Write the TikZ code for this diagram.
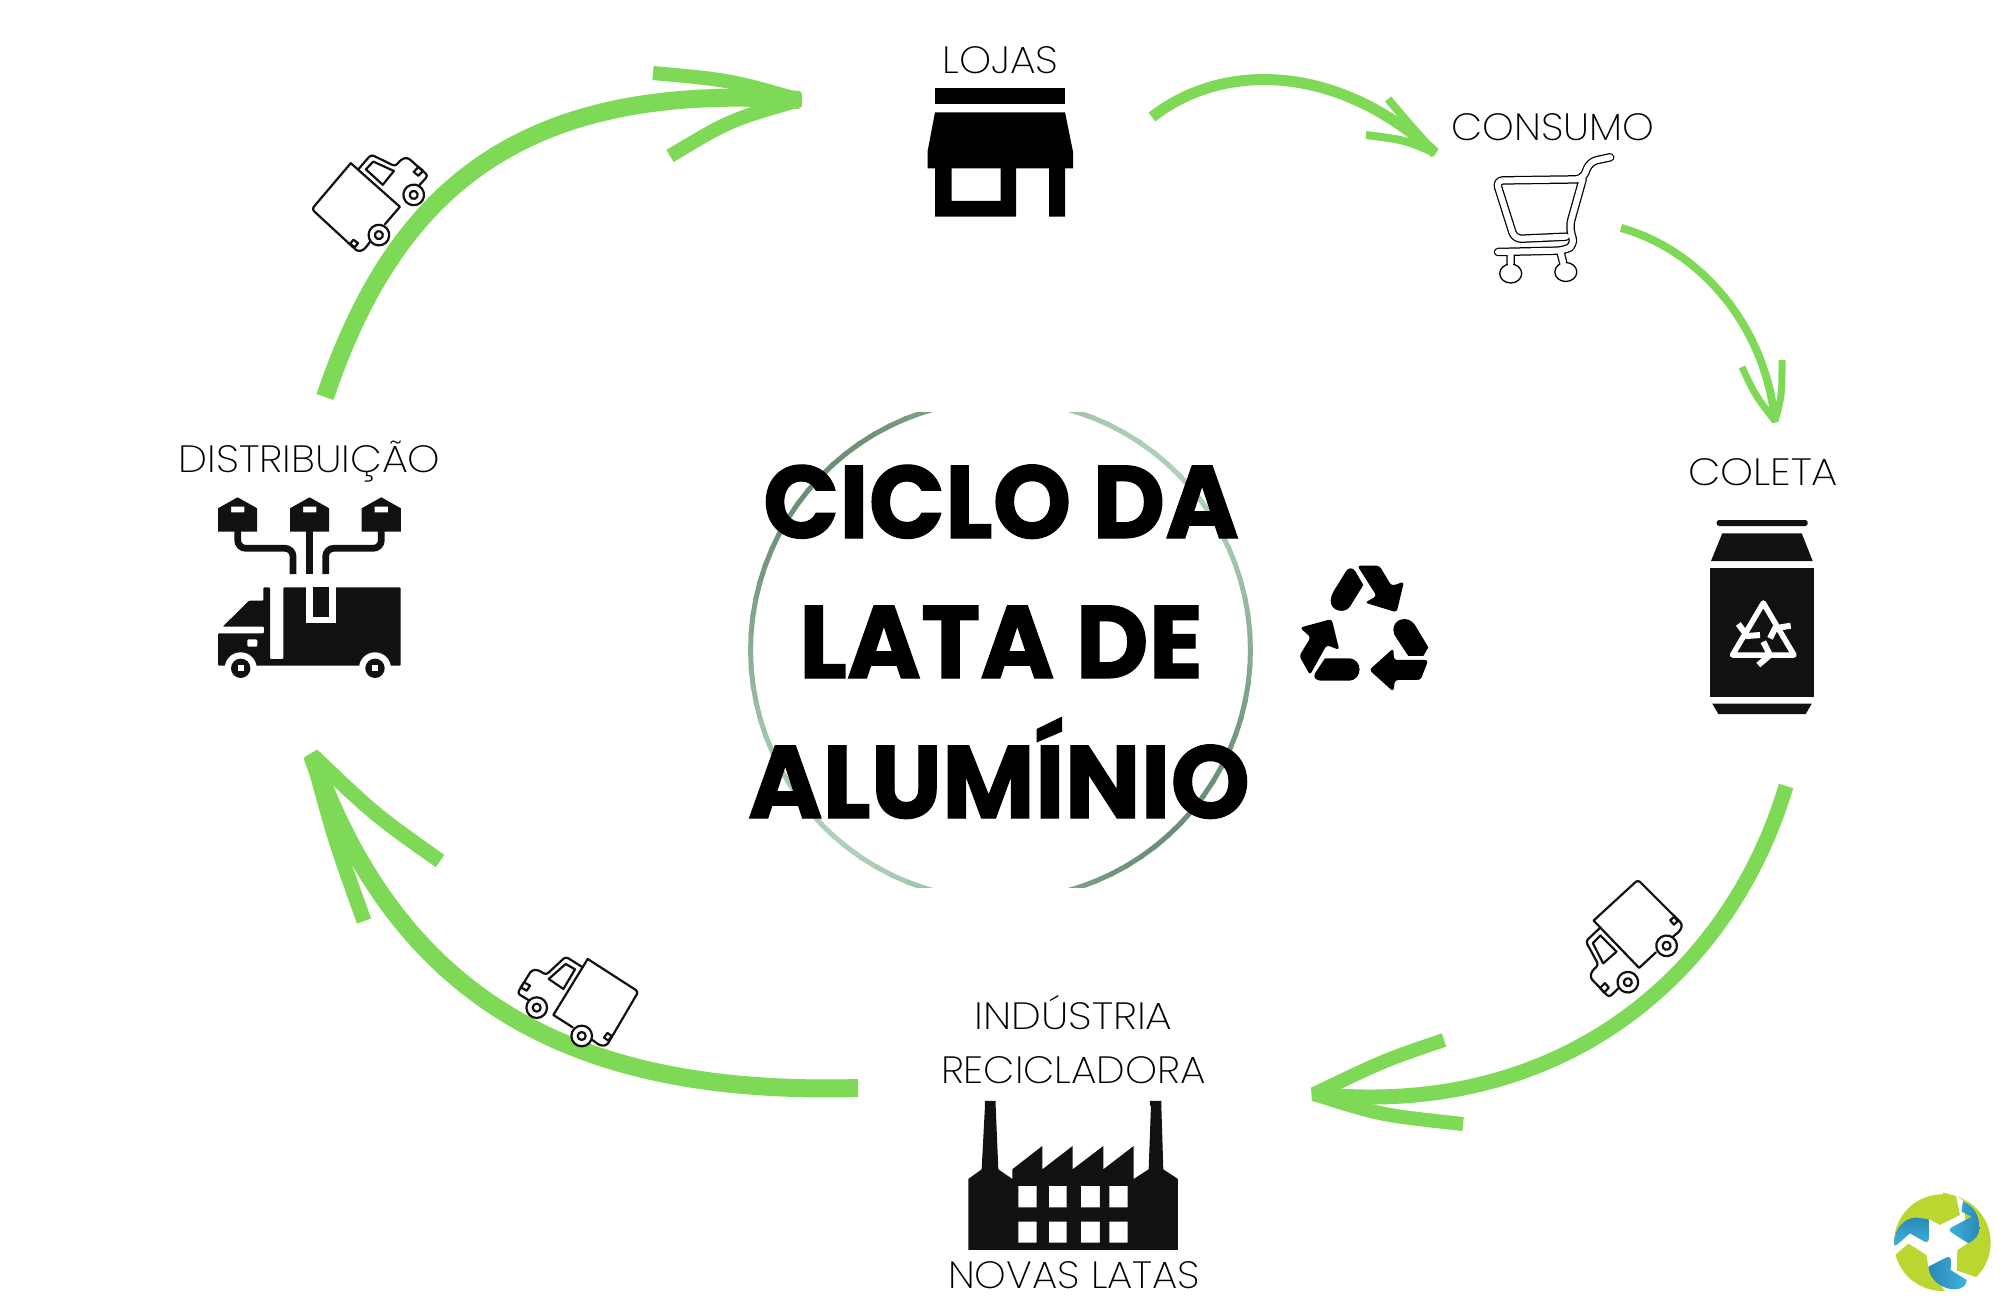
\documentclass[tikz,border=0pt]{standalone}
\usepackage{fontspec}
\usepackage{graphicx}
\setmainfont{Poppins}
\newfontfamily\labfont{Poppins ExtraLight}
\newfontfamily\titfont{Poppins}[BoldFeatures={FakeBold=1.2}]
\newcommand{\fitx}[2]{\setbox0\hbox{#2}\pgfmathsetmacro\fx{#1/\wd0}\scalebox{\fx}[1]{\box0}}
\definecolor{arrowgreen}{HTML}{7ED957}
\definecolor{ink}{HTML}{12110F}
\definecolor{sagedark}{HTML}{6B8F75}
\definecolor{sagelight}{HTML}{AFD0B9}
\definecolor{logogreen}{HTML}{BCD631}
\definecolor{logoblue}{HTML}{3FB3E0}
\definecolor{logoblueb}{HTML}{2B88B5}
\tikzset{
 labeltext/.style={anchor=base,inner sep=0pt,font=\labfont\fontsize{38}{38}\selectfont,text=black},
 titletext/.style={anchor=base,inner sep=0pt,font=\titfont\bfseries\fontsize{103}{103}\selectfont,text=black},
 sweep/.style={draw=arrowgreen,line cap=butt,line join=bevel},
 iconfill/.style={fill=ink,draw=none},
 tline/.style={draw=ink,line width=2.2,line join=round,line cap=round},
}
\newcommand{\smalltruck}[1]{%
 \begin{scope}[#1]
 \begin{scope}[scale=0.33333,shift={(-177.5,-245.5)}]
  \draw[tline,rounded corners=3pt] (263,57) -- (415,155) -- (320,317) -- (300,317) -- (277,300);
  \draw[tline] (263,57) -- (160,225) -- (218,262);
  \draw[tline,rounded corners=3pt] (248,82) -- (197,50) -- (138,105) -- (115,90) -- (95,90) -- (52,160) -- (85,180);
  \draw[tline] (197,72) -- (225,88) -- (190,147) -- (146,117) -- cycle;
  \draw[tline] (72,127) -- (90,137) -- (80,152) -- (62,142) -- cycle;
  \draw[tline] (322,279) -- (335,288) -- (325,302) -- (312,293) -- cycle;
  \draw[tline,fill=white] (110,203) circle (31);
  \draw[tline] (110,203) circle (12);
  \draw[tline,fill=white] (245,288) circle (31);
  \draw[tline] (245,288) circle (12);
 \end{scope}
 \end{scope}}
\newcommand{\cartpath}{
  (1610.2,157.3) -- (1589.8,161.7) -- (1582.7,179.3) -- (1496,180.5) -- (1514.5,239) -- (1566,236.7)
  (1582.7,179.3) -- (1569.4,226.7) -- (1574.5,245) -- (1564.3,250.5) -- (1498,252)
  (1510.7,253) -- (1510.7,264)
  (1560.7,253) -- (1563,262)}
\begin{document}
\begin{tikzpicture}[x=1pt,y=-1pt]
\useasboundingbox (0,0) rectangle (2000,1300);
\fill[white] (0,0) rectangle (2000,1300);

% central ring
\begin{scope}
 \clip (700,412) rectangle (1300,887);
 \foreach \a in {0,4,...,356}{
  \pgfmathtruncatemacro\mixv{50+50*sin(2*\a)}
  \pgfmathsetmacro\cxa{1000.5+250*cos(\a)}
  \pgfmathsetmacro\cya{650-250*sin(\a)}
  \pgfmathsetmacro\cxb{1000.5+250*cos(\a+4.5)}
  \pgfmathsetmacro\cyb{650-250*sin(\a+4.5)}
  \draw[line width=5,draw=sagelight!\mixv!sagedark] (\cxa,\cya) -- (\cxb,\cyb);
 }
\end{scope}

% labels
\node[labeltext] (lojas) at (1000.5,74) {\fitx{116}{LOJAS}};
\node[labeltext] (consumo) at (1553,141) {\fitx{203}{CONSUMO}};
\node[labeltext] (coleta) at (1763,485) {\fitx{150}{COLETA}};
\node[labeltext] (distribuicao) at (309.5,472) {\fitx{262}{DISTRIBUIÇÃO}};
\node[labeltext] (industria) at (1073.5,1029) {\fitx{198}{INDÚSTRIA}};
\node[labeltext] (recicladora) at (1073.5,1083) {\fitx{265}{RECICLADORA}};
\node[labeltext] (novas) at (1074,1288) {\fitx{252}{NOVAS LATAS}};

% title
\node[titletext] (t1) at (1001,538) {\fitx{476}{CICLO DA}};
\node[titletext] (t2) at (1001,678) {\fitx{404}{LATA DE}};
\node[titletext] (t3) at (999,818) {\fitx{502}{ALUMÍNIO}};

% connector anchors
\coordinate (a1s) at (1152,117); \coordinate (a1c1) at (1225,60); \coordinate (a1c2) at (1340,65); \coordinate (a1t) at (1435,153);
\coordinate (a1u) at (1388,99); \coordinate (a1v) at (1366,135);
\coordinate (a2s) at (1621,228); \coordinate (a2c1) at (1700,250); \coordinate (a2c2) at (1765,325); \coordinate (a2t) at (1775,421);
\coordinate (a2u) at (1742,367); \coordinate (a2v) at (1782,360);
\coordinate (a3s) at (1786,786); \coordinate (a3c1) at (1730,975); \coordinate (a3c2) at (1560,1120); \coordinate (a3t) at (1314,1094);
\coordinate (a3u) at (1444,1040); \coordinate (a3v) at (1463,1124);
\coordinate (a4s) at (858,1088); \coordinate (a4c1) at (600,1095); \coordinate (a4c2) at (405,1020); \coordinate (a4t) at (312,755);
\coordinate (a4u) at (440,861); \coordinate (a4v) at (364,921);
\coordinate (a5s) at (325,397); \coordinate (a5c1) at (395,190); \coordinate (a5c2) at (520,80); \coordinate (a5t) at (800,100);
\coordinate (a5u) at (653,73); \coordinate (a5v) at (670,156);

% sweeping arrows
\draw[sweep,line width=11] (a1s) .. controls (a1c1) and (a1c2) .. (a1t);
\draw[sweep,line width=8] (a1u) .. controls (1410,125) .. (a1t) .. controls (1405,140) .. (a1v);
\draw[sweep,line width=8] (a2s) .. controls (a2c1) and (a2c2) .. (a2t);
\draw[sweep,line width=7] (a2u) .. controls (1755,395) .. (a2t) .. controls (1782,395) .. (a2v);
\draw[sweep,line width=15] (a3s) .. controls (a3c1) and (a3c2) .. (a3t);
\draw[sweep,line width=14] (a3u) .. controls (1385,1060) .. (a3t) .. controls (1380,1115) .. (a3v);
\draw[sweep,line width=18] (a4s) .. controls (a4c1) and (a4c2) .. (a4t);
\draw[sweep,line width=15] (a4u) .. controls (375,815) .. (a4t) .. controls (335,840) .. (a4v);
\draw[sweep,line width=18] (a5s) .. controls (a5c1) and (a5c2) .. (a5t);
\draw[sweep,line width=14] (a5u) .. controls (730,80) .. (a5t) .. controls (730,120) .. (a5v);

% small trucks
\smalltruck{shift={(396.3,215)},rotate=16.9,xscale=-1}
\smalltruck{shift={(1647.2,964)},rotate=75.4}
\smalltruck{shift={(559.2,1021.8)}}

% store
\fill[black] (935,88.3) rectangle (1065,104.3);
\fill[black,even odd rule] (935,112.3) -- (1065,112.3) -- (1073,151.7) -- (1073,168.3) -- (1065,168.3) -- (1065,216.7) -- (1049,216.7) -- (1049,168.3) -- (1016,168.3) -- (1016,216.7) -- (935,216.7) -- (935,168.3) -- (927.5,168.3) -- (927.5,151.7) -- cycle
 (951.5,168.3) rectangle (1000.5,201);

% cart
\draw[black,line width=8.5,line join=round,line cap=round,rounded corners=7pt] \cartpath;
\draw[white,line width=6,line join=round,line cap=round,rounded corners=7pt] \cartpath;
\draw[black,fill=white,line width=1.3] (1510.7,273.5) ellipse (11 and 9.5);
\draw[black,fill=white,line width=1.3] (1565.8,272) ellipse (11 and 9.5);
\draw[white,line width=5.5] (1510.7,262) -- (1510.7,267);
\draw[white,line width=5.5] (1562.5,260) -- (1563.5,265.5);

% can
\fill[ink,rounded corners=2.5pt] (1716.7,520) rectangle (1807.7,526);
\fill[ink] (1722.3,533.3) -- (1801.7,533.3) -- (1812.7,561) -- (1711,561) -- cycle;
\fill[ink] (1710,568.3) rectangle (1814.3,696.7);
\fill[ink] (1712.3,703.7) -- (1811.7,703.7) -- (1805.7,714) -- (1718.3,714) -- cycle;
\draw[white,line width=5.5,line join=round] (1763.3,603) -- (1794,655) -- (1732.5,655) -- cycle;
\draw[white,line width=6] (1738.3,624) -- (1747.3,636) -- (1760,635);
\draw[white,line width=6] (1790.7,625.7) -- (1775,628.3) -- (1770,638.3);
\draw[white,line width=6] (1763.3,641.7) -- (1770,655) -- (1758.3,665);

% factory
\begin{scope}[scale=0.33333,shift={(2850,3270)}]
 \fill[ink,even odd rule] (105,33) -- (137,33) -- (137,47) -- (145,238) -- (187,267) -- (187,238) -- (277,168) -- (277,238) -- (368,168) -- (368,238) -- (460,168) -- (460,238) -- (551,168) -- (551,267) -- (596,238) -- (603,47) -- (600,47) -- (600,33) -- (634,33) -- (634,47) -- (640,238) -- (684,267) -- (684,480) -- (55,480) -- (55,267) -- (95,238) -- (105,47) -- cycle
  (205,288) rectangle (260,352) (297,288) rectangle (350,352) (393,288) rectangle (450,352) (478,288) rectangle (533,352)
  (205,395) rectangle (260,458) (297,395) rectangle (350,458) (393,395) rectangle (450,458) (478,395) rectangle (533,458);
\end{scope}

% recycling mark
\begin{scope}[scale=0.33333,shift={(3840,1650)}]
 \fill[black,rounded corners=3pt] (232,47) -- (298,47) -- (335,108) -- (372,95) -- (350,187) -- (255,158) -- (290,138) -- cycle;
 \fill[black,rounded corners=3pt] (445,330) -- (422,390) -- (345,390) -- (340,425) -- (268,360) -- (340,295) -- (342,330) -- cycle;
 \fill[black,rounded corners=3pt] (60,233) -- (155,207) -- (178,300) -- (140,285) -- (90,375) -- (58,318) -- (92,262) -- cycle;
 \fill[black] (212,55) .. controls (218,55) and (222,58) .. (226,64) -- (250,105) -- (210,170) .. controls (196,192) and (150,185) .. (152,150) .. controls (152,140) and (158,130) .. (162,122) -- (198,64) .. controls (202,58) and (206,55) .. (212,55) -- cycle;
 \fill[black] (340,240) .. controls (340,205) and (385,195) .. (405,225) -- (445,292) -- (430,318) -- (385,318) -- (350,265) .. controls (345,258) and (340,250) .. (340,240) -- cycle;
 \fill[black] (135,325) -- (205,325) .. controls (250,325) and (250,392) .. (205,392) -- (125,392) .. controls (110,392) and (98,385) .. (105,370) -- cycle;
\end{scope}

% distribution: warehouses and routes
\draw[ink,line width=6.7,rounded corners=8pt] (237.7,530) |- (293,548.3) -- (293,574);
\draw[ink,line width=6.7] (309.3,530) -- (309.3,574);
\draw[ink,line width=6.7,rounded corners=8pt] (381.3,530) |- (325.7,548.3) -- (325.7,574);
\foreach \bx in {218,290,361.7}{
 \fill[ink,even odd rule] (\bx,508.3) -- ({\bx+19.6},497.3) -- ({\bx+39.2},508.3) -- ({\bx+39.2},531.7) -- (\bx,531.7) -- cycle
  ({\bx+13},506.7) rectangle ({\bx+26.4},512.3);
}
% distribution: truck
\fill[ink,even odd rule,rounded corners=1pt] (283.3,587.3) -- (400.7,587.3) -- (400.7,665.7) -- (218,665.7) -- (218,633.3) -- (264,633.3) -- (264,626.7) -- (222.7,626.7) -- (249,600.7) -- (263.3,600.7) -- (263.3,587.3) -- (270,587.3) -- (270,659) -- (283.3,659) -- cycle
 (247.3,639.3) rectangle (257.3,646.7);
\fill[white] (306,585) rectangle (335.7,623.3);
\fill[ink] (312.7,587.3) rectangle (329,616.7);
\fill[white] (240.7,668.3) circle (16);
\fill[white] (375,668.3) circle (16);
\fill[ink] (240.7,668.3) circle (9.7);
\fill[ink] (375,668.3) circle (9.7);
\fill[white] (237.7,665.3) rectangle (243.7,671.3);
\fill[white] (372,665.3) rectangle (378,671.3);

% logo
\begin{scope}[scale=0.33333,shift={(5640,3540)}]
 \fill[logogreen] (187,188) circle (145);
 \fill[white] (147,118) -- (180,135) -- (228,48) -- (250,62) -- (262,190) -- (232,210) -- (230,272) -- (290,292) -- (262,340) -- (200,340) -- (145,262) -- (140,225) -- (85,190) -- (45,225) -- (35,195) -- (90,160) -- (147,185) -- cycle;
 \fill[logogreen] (180,135) -- (240,105) -- (228,48) -- (190,38) -- (160,100) -- cycle;
 \shade[top color=logoblueb,bottom color=logoblue] (42,192) .. controls (42,150) and (70,112) .. (110,113) -- (147,118) -- (147,175) .. controls (147,190) and (135,188) .. (125,180) -- (90,160) -- (50,195) .. controls (45,198) and (42,197) .. (42,192) -- cycle;
 \shade[left color=logoblue,right color=logoblueb] (250,65) .. controls (285,80) and (298,110) .. (298,145) .. controls (298,165) and (285,180) .. (265,190) -- (215,158) .. controls (205,150) and (208,146) .. (215,142) -- (275,110) -- (245,95) -- (248,68) -- cycle;
 \shade[left color=logoblueb,right color=logoblue] (145,260) -- (200,232) .. controls (210,228) and (213,235) .. (213,245) -- (212,270) -- (260,300) .. controls (262,315) and (245,328) .. (225,328) .. controls (190,328) and (150,305) .. (145,260) -- cycle;
\end{scope}
\end{tikzpicture}
\end{document}
